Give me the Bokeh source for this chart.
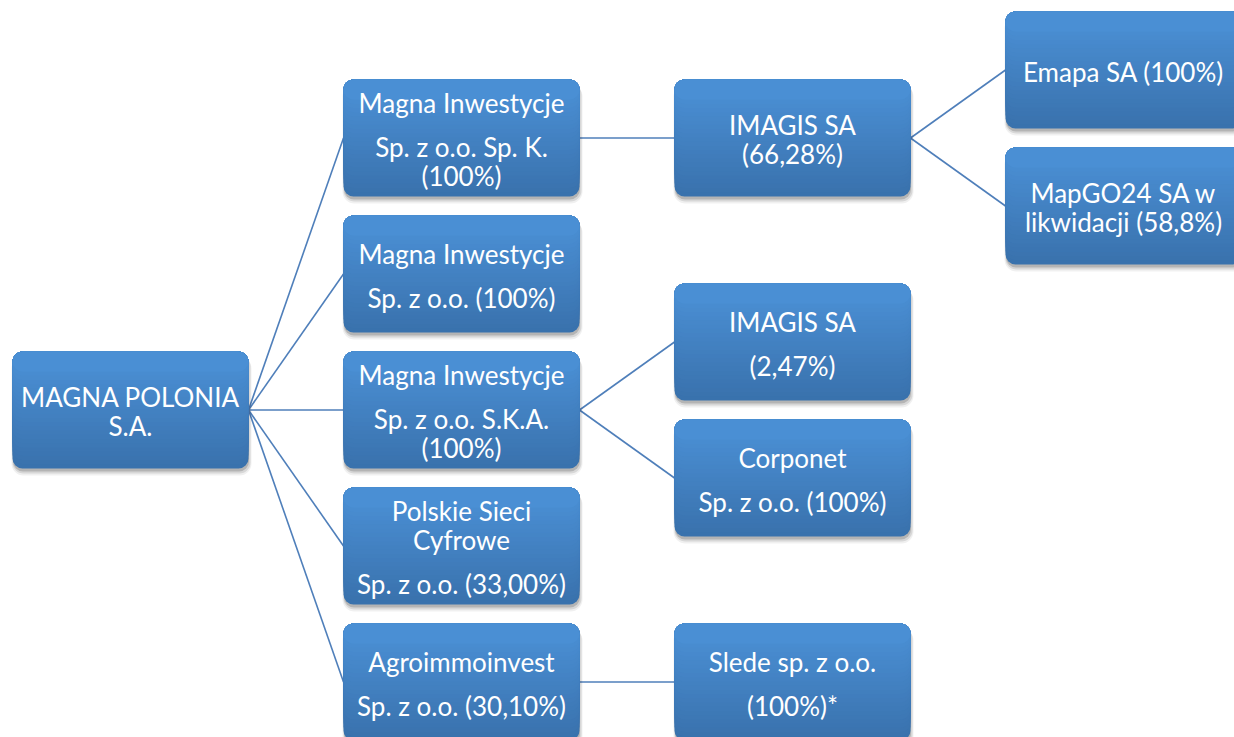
from bokeh.plotting import figure
from bokeh.models import Range1d
from bokeh.core.properties import value
from bokeh.embed import file_html
from bokeh.resources import INLINE

# ---- data: organisation tree ----
node_ids = ["mp", "mi_spk", "mi", "mi_ska", "psc", "agro",
            "imagis66", "imagis2", "corponet", "slede", "emapa", "mapgo"]
node_parents = [None, "mp", "mp", "mp", "mp", "mp",
                "mi_spk", "mi_ska", "mi_ska", "agro", "imagis66", "imagis66"]
# "\n\n" separates paragraphs, "\n" is a wrapped line inside a paragraph
node_labels = [
    "MAGNA POLONIA\nS.A.",
    "Magna Inwestycje\n\nSp. z o.o. Sp. K.\n(100%)",
    "Magna Inwestycje\n\nSp. z o.o. (100%)",
    "Magna Inwestycje\n\nSp. z o.o. S.K.A.\n(100%)",
    "Polskie Sieci\nCyfrowe\n\nSp. z o.o. (33,00%)",
    "Agroimmoinvest\n\nSp. z o.o. (30,10%)",
    "IMAGIS SA\n(66,28%)",
    "IMAGIS SA\n\n(2,47%)",
    "Corponet\n\nSp. z o.o. (100%)",
    "Slede sp. z o.o.\n\n(100%)*",
    "Emapa SA (100%)",
    "MapGO24 SA w\nlikwidacji (58,8%)",
]

# ---- layout ----
BOX_W, BOX_H = 236, 117
LEVEL_PITCH = 331
ROW_PITCH = 136
ROOT_LEFT = 12
ROOT_CY = 409.5
RADIUS = 10
WRAP_GAP = 29.5
PARA_GAP = 44
TEXT_SHIFT = 1.5
TOP_RGB = (76, 146, 216)
BOT_RGB = (57, 113, 172)
LINE_COLOR = "#4f7fba"
W, H = 1234, 737

children = {n: [] for n in node_ids}
for n, par in zip(node_ids, node_parents):
    if par:
        children[par].append(n)

pos = {}
def place(n, level, cy):
    pos[n] = (ROOT_LEFT + level * LEVEL_PITCH, cy)
    kids = children[n]
    k = len(kids)
    for j, c in enumerate(kids):
        place(c, level + 1, cy + (j - (k - 1) / 2) * ROW_PITCH)
place(node_ids[0], 0, ROOT_CY)

p = figure(width=W, height=H, x_range=Range1d(0, W), y_range=Range1d(H, 0),
           output_backend="svg", toolbar_location=None, min_border=0)
p.axis.visible = False
p.grid.visible = False
p.outline_line_color = None
p.background_fill_color = "white"
p.border_fill_color = "white"

# connectors
sx0, sy0, sx1, sy1 = [], [], [], []
for n, par in zip(node_ids, node_parents):
    if par:
        px, pcy = pos[par]
        cx, ccy = pos[n]
        sx0.append(px + BOX_W); sy0.append(pcy)
        sx1.append(cx); sy1.append(ccy)
p.segment(x0=sx0, y0=sy0, x1=sx1, y1=sy1, line_color=LINE_COLOR, line_width=1.6)

# shadows
for dx, dy, grow, alpha in [(1, 5, 2, 0.06), (1, 4, 1, 0.10), (0.5, 3, 0, 0.16)]:
    p.quad(left=[pos[n][0] + dx - grow for n in node_ids],
           right=[pos[n][0] + BOX_W + dx + grow for n in node_ids],
           top=[pos[n][1] - BOX_H / 2 + dy for n in node_ids],
           bottom=[pos[n][1] + BOX_H / 2 + dy + grow for n in node_ids],
           fill_color="black", fill_alpha=alpha, line_color=None, border_radius=RADIUS + grow)

# gradient boxes: stacked rounded rects from full height down to 2*radius
NB = 24
min_h = 2 * RADIUS
L, R, T, B, C = [], [], [], [], []
for i in range(NB):
    h = BOX_H - i * (BOX_H - min_h) / (NB - 1)
    h_next = BOX_H - (i + 1) * (BOX_H - min_h) / (NB - 1) if i < NB - 1 else 0
    f = ((h + h_next) / 2) / BOX_H
    rgb = tuple(int(round(TOP_RGB[k] + (BOT_RGB[k] - TOP_RGB[k]) * f)) for k in range(3))
    col = "#%02x%02x%02x" % rgb
    for n in node_ids:
        x, cy = pos[n]
        L.append(x); R.append(x + BOX_W)
        T.append(cy - BOX_H / 2); B.append(cy - BOX_H / 2 + h)
        C.append(col)
p.quad(left=L, right=R, top=T, bottom=B, fill_color=C, line_color=None, border_radius=RADIUS)

# labels
tx, ty, tt = [], [], []
for n, lab in zip(node_ids, node_labels):
    x, cy = pos[n]
    offs, lines = [], []
    cur = 0.0
    for pi, para in enumerate(lab.split("\n\n")):
        for li, line in enumerate(para.split("\n")):
            if lines:
                cur += PARA_GAP if li == 0 else WRAP_GAP
            offs.append(cur); lines.append(line)
    span = offs[-1]
    for o, line in zip(offs, lines):
        tx.append(x + BOX_W / 2)
        ty.append(cy - span / 2 + o + TEXT_SHIFT)
        tt.append(line)
p.text(x=tx, y=ty, text=tt, text_color="white", text_align="center", text_baseline="middle",
       text_font=value("Lato"), text_font_size="26px")

open("out.html", "w").write(file_html(p, INLINE))
